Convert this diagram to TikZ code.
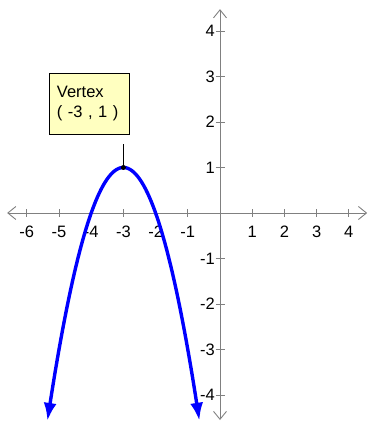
\documentclass[tikz,border=0pt]{standalone}
\usepackage{fontspec}
\setmainfont{Liberation Sans}
\usetikzlibrary{arrows.meta}
\definecolor{axisgray}{RGB}{128,128,128}
\definecolor{noteyellow}{RGB}{255,255,192}

\begin{document}
\begin{tikzpicture}[
  x=32.2pt, y=45.5pt,
  font=\fontsize{16.5}{19.5}\selectfont,
  axis/.style={draw=axisgray, line width=0.9pt,
               {Straight Barb[length=8pt,width=13pt]}-{Straight Barb[length=8pt,width=13pt]}},
  tck/.style={draw=axisgray, line width=0.9pt},
  curve/.style={draw=blue, line width=3.4pt,
                {Latex[length=18pt,width=13pt]}-{Latex[length=18pt,width=13pt]}},
  note/.style={draw, fill=noteyellow, align=left, minimum width=80pt,
               minimum height=61pt, inner sep=7pt, text width=64pt}
]
\useasboundingbox (-220pt,-209pt) rectangle (148pt,213pt);

% axes
\coordinate (xl) at (-6.61,0);
\coordinate (xr) at (4.57,0);
\coordinate (yb) at (0,-4.55);
\coordinate (yt) at (0,4.48);
\draw[axis] (xl) -- (xr);
\draw[axis] (yb) -- (yt);

\foreach \x in {-6,-5,-4,-3,-2,-1,1,2,3,4} {
  \draw[tck] (\x,0) ++(0,-4pt) -- ++(0,8pt);
  \node (xt\x) at (\x,-0.42) {\x};
}
\foreach \y in {-4,-3,-2,-1,1,2,3,4} {
  \draw[tck] (0,\y) ++(-4.5pt,0) -- ++(9pt,0);
  \node[anchor=east, inner sep=0pt] (yt\y) at (-5pt,\y) {\y};
}

% parabola y = 1 - (x+3)^2
\draw[curve, domain=-5.36:-0.64, samples=80] plot (\x,{1-(\x+3)^2});

% vertex callout
\coordinate (vtx) at (-3,1);
\coordinate (ctip) at (-3,1.52);
\draw[line width=0.8pt] (vtx) -- (ctip);
\fill (vtx) circle (2.5pt);
\node[note] (vbox) at (-4.07,2.41) {Vertex\\( -3 , 1 )};
\end{tikzpicture}
\end{document}
